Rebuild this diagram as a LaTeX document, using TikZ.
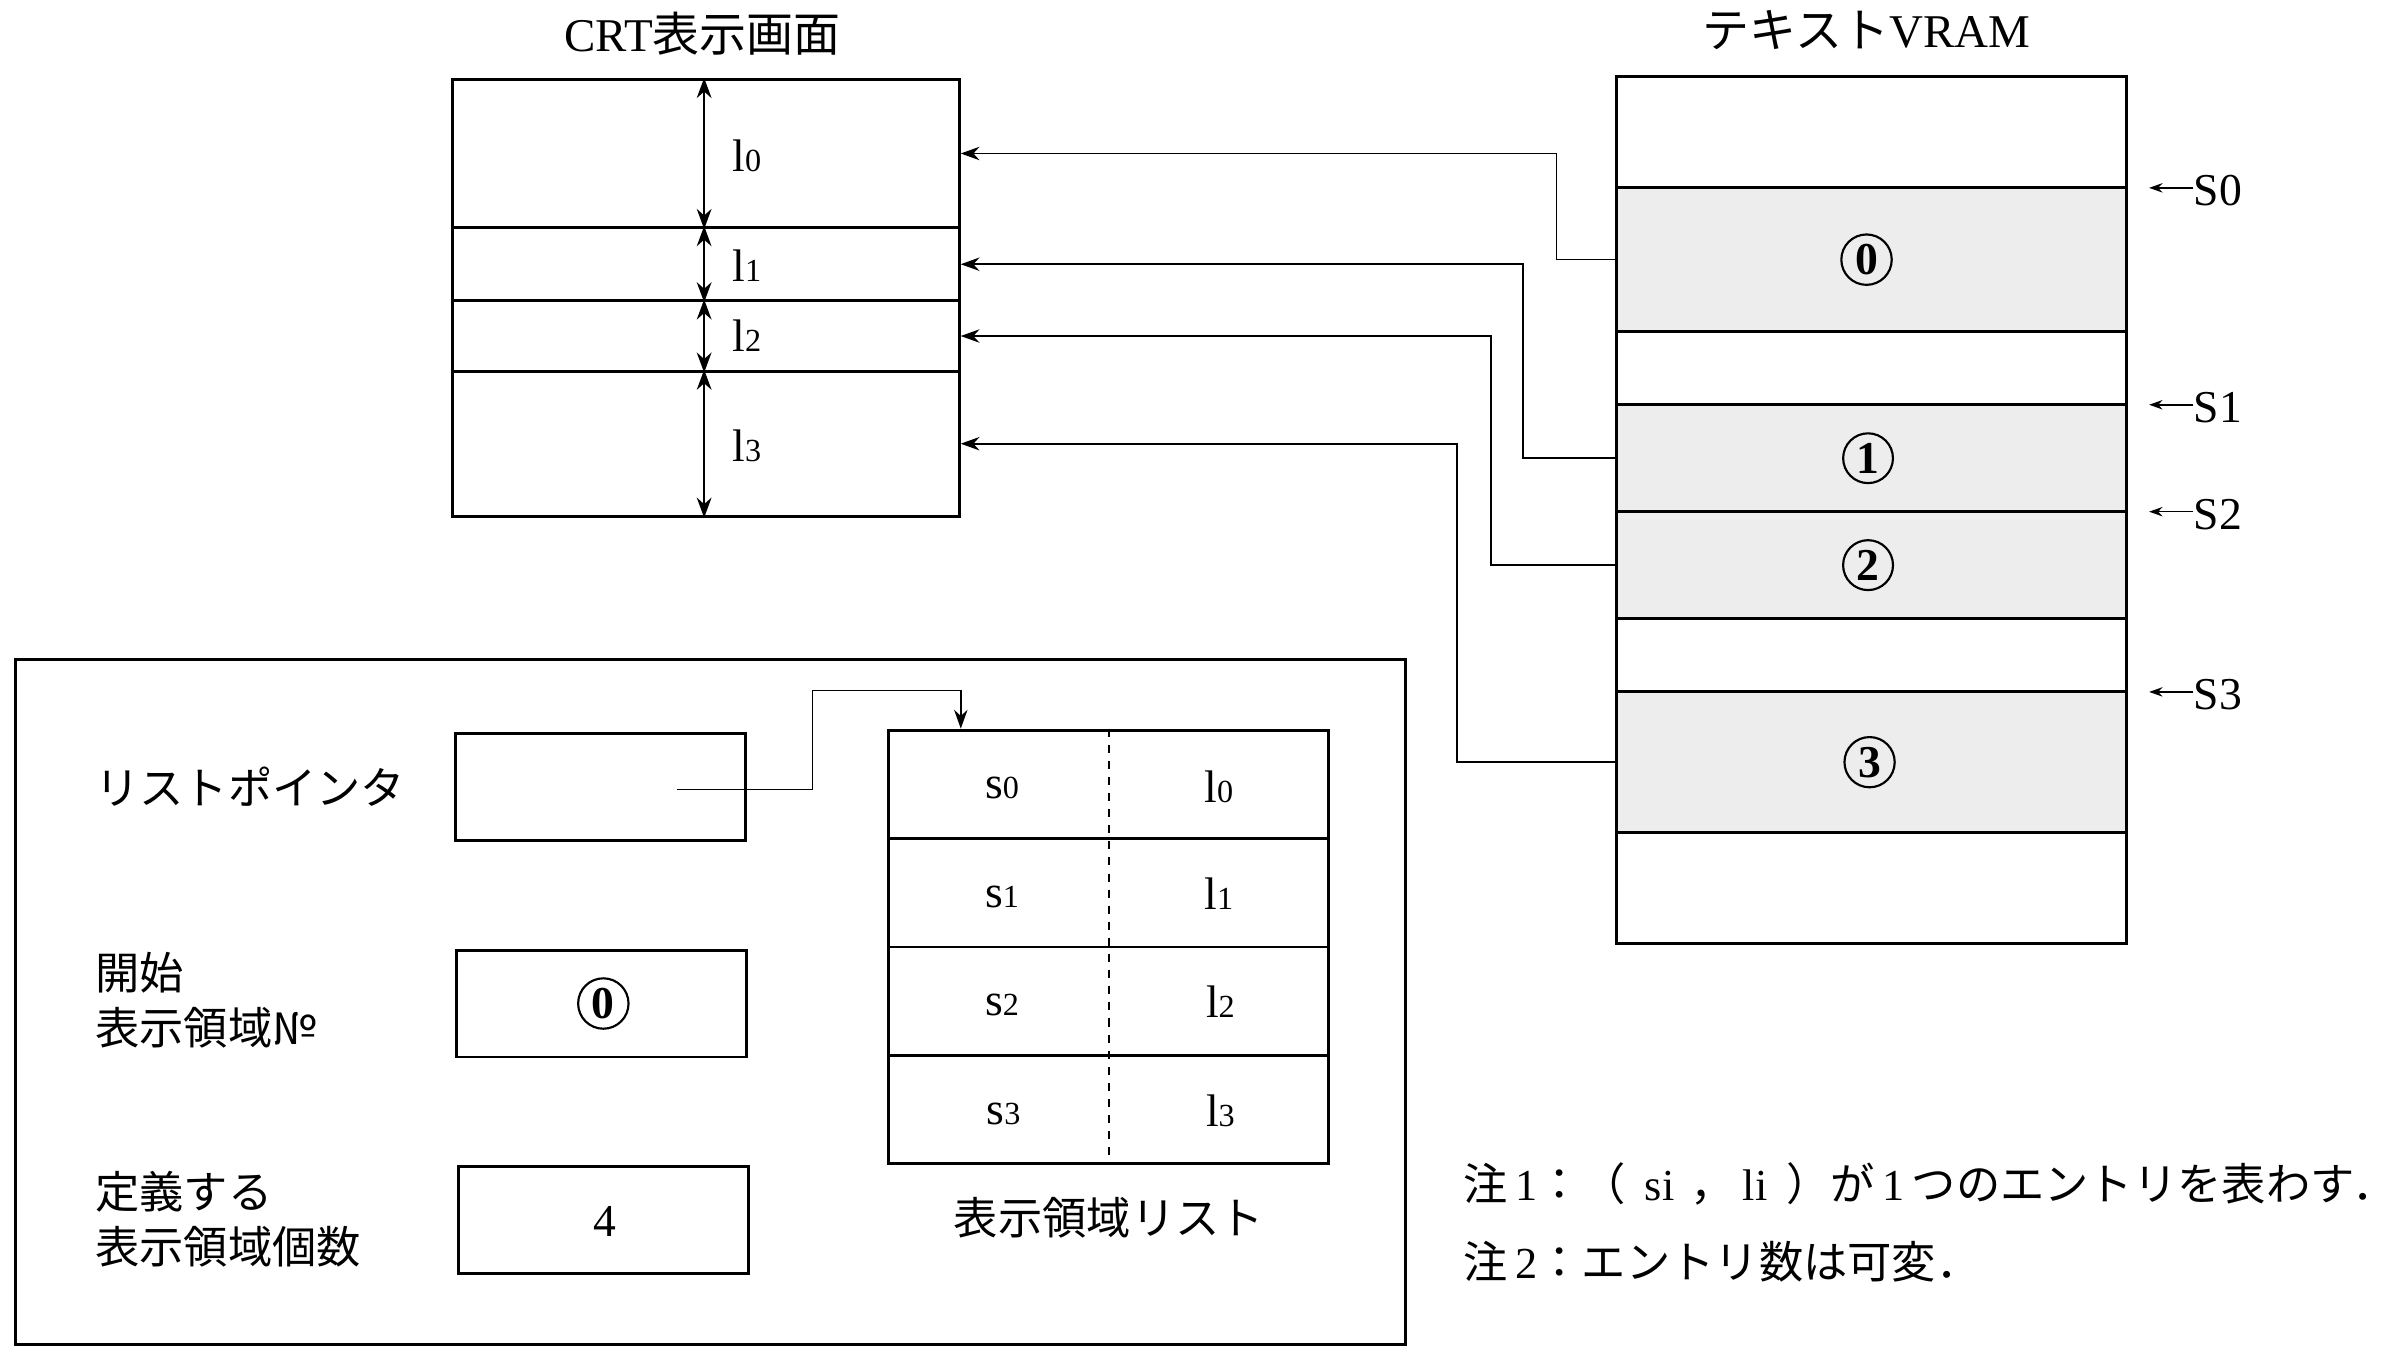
\documentclass[tikz,border=0pt]{standalone}
\usepackage{fontspec}
\setmainfont{Liberation Serif}
\newfontfamily\jp{Noto Sans CJK JP}
\usetikzlibrary{arrows.meta,fit,calc}
\begin{document}
\begin{tikzpicture}[x=0.02cm,y=-0.02cm,
  region/.style={draw, line width=1.1pt, inner sep=0pt},
  shaded/.style={region, fill=gray!14},
  conn/.style={line width=0.6pt, -{Stealth[length=7pt,width=5pt]}},
  dimarrow/.style={line width=0.7pt, {Stealth[length=7.5pt,width=5.5pt]}-{Stealth[length=7.5pt,width=5.5pt]}},
  marker/.style={line width=0.6pt, -{Stealth[length=5pt,width=3.5pt]}},
  title/.style={font=\fontsize{17.5}{20}\selectfont},
  jlab/.style={font=\jp\fontsize{16.5}{20.5}\selectfont, anchor=west, align=left, inner sep=0pt},
  lat/.style={font=\fontsize{17}{20}\selectfont, inner sep=0pt},
  cnum/.style={circle, draw, line width=0.8pt, inner sep=1.6pt, font=\fontsize{17}{17}\selectfont\bfseries}]
\newcommand{\lsub}[2]{#1{\fontsize{12}{12}\selectfont #2}}
\useasboundingbox (0,0) rectangle (1568,884);

% ---------- CRT screen ----------
\node[title] (crttitle) at (460,22) {CRT{\jp 表示画面}};
\node[region, fit={(296,52)(628,149)}] (c0) {};
\node[region, fit={(296,149)(628,197)}] (c1) {};
\node[region, fit={(296,197)(628,243)}] (c2) {};
\node[region, fit={(296,243)(628,338)}] (c3) {};
\draw[dimarrow] ($(c0.north)+(-1,0)$) -- ($(c0.south)+(-1,0)$);
\draw[dimarrow] ($(c1.north)+(-1,0)$) -- ($(c1.south)+(-1,0)$);
\draw[dimarrow] ($(c2.north)+(-1,0)$) -- ($(c2.south)+(-1,0)$);
\draw[dimarrow] ($(c3.north)+(-1,0)$) -- ($(c3.south)+(-1,0)$);
\node[lat] (lab0) at (489,102) {\lsub{l}{0}};
\node[lat] (lab1) at (489,174) {\lsub{l}{1}};
\node[lat] (lab2) at (489,220) {\lsub{l}{2}};
\node[lat] (lab3) at (489,292) {\lsub{l}{3}};

% ---------- Text VRAM ----------
\node[title] (vtitle) at (1222,20) {{\jp テキスト}VRAM};
\node[region, fit={(1058,50)(1392,123)}] (vtop) {};
\node[shaded, fit={(1058,123)(1392,217)}] (v0) {};
\node[region, fit={(1058,217)(1392,265)}] (vg1) {};
\node[shaded, fit={(1058,265)(1392,335)}] (v1) {};
\node[shaded, fit={(1058,335)(1392,405)}] (v2) {};
\node[region, fit={(1058,405)(1392,453)}] (vg2) {};
\node[shaded, fit={(1058,453)(1392,545)}] (v3) {};
\node[region, fit={(1058,545)(1392,618)}] (vbot) {};
\node[cnum] (n0) at (1222,170) {0};
\node[cnum] (n1) at (1223,300) {1};
\node[cnum] (n2) at (1223,370) {2};
\node[cnum] (n3) at (1224,499) {3};

% markers
\node[lat, anchor=west] (m0) at (1436,125) {S0};
\node[lat, anchor=west] (m1) at (1436,267) {S1};
\node[lat, anchor=west] (m2) at (1436,337) {S2};
\node[lat, anchor=west] (m3) at (1436,455) {S3};
\coordinate (t0) at (1407,123);
\coordinate (t1) at (1407,265);
\coordinate (t2) at (1407,335);
\coordinate (t3) at (1407,453);
\draw[marker] (m0.west |- t0) -- (t0);
\draw[marker] (m1.west |- t1) -- (t1);
\draw[marker] (m2.west |- t2) -- (t2);
\draw[marker] (m3.west |- t3) -- (t3);

% connectors VRAM -> CRT
\draw[conn] (v0.west) -- ++(-38,0) |- (c0.east);
\draw[conn] (v1.west) -- ++(-60,0) |- (c1.east);
\draw[conn] (v2.west) -- ++(-81,0) |- (c2.east);
\draw[conn] (v3.west) -- ++(-103,0) |- (c3.east);

% ---------- lower panel ----------
\node[region, fit={(10,432)(920,880)}] (panel) {};

\node[jlab] (lp) at (62,515) {リストポインタ};
\node[jlab] (st) at (62,655) {開始\\表示領域№};
\node[jlab] (ct) at (62,798) {定義する\\表示領域個数};

\node[region, fit={(298,480)(488,550)}] (pb) {};
\node[region, fit={(299,622)(489,692)}] (sb) {};
\node[region, fit={(300,764)(490,834)}] (cb) {};
\node[cnum] (sn) at (395,657) {0};
\node[lat] (four) at (396,800) {4};

\node[region, fit={(582,478)(870,549)}] (r0) {};
\node[region, fit={(582,549)(870,620)}] (r1) {};
\node[region, fit={(582,620)(870,691)}] (r2) {};
\node[region, fit={(582,691)(870,762)}] (r3) {};
\draw[line width=0.8pt, dash pattern=on 3pt off 3pt] ($(r0.north west)!0.5!(r0.north east)$) -- ($(r3.south west)!0.5!(r3.south east)$);
\node[lat] (s0) at (656,516) {\lsub{s}{0}};
\node[lat] (s1) at (656,587) {\lsub{s}{1}};
\node[lat] (s2) at (656,658) {\lsub{s}{2}};
\node[lat] (s3) at (657,729) {\lsub{s}{3}};
\node[lat] (e0) at (798,515) {\lsub{l}{0}};
\node[lat] (e1) at (798,585) {\lsub{l}{1}};
\node[lat] (e2) at (799,656) {\lsub{l}{2}};
\node[lat] (e3) at (799,727) {\lsub{l}{3}};
\node[jlab, anchor=center] (lcap) at (726,797) {表示領域リスト};

\coordinate (pstart) at (443,517);
\draw[conn] (pstart) -- (532,517) -- (532,452) -| ($(r0.north west)+(48,0)$);

% ---------- notes ----------
\node[font=\fontsize{16.5}{20}\selectfont, anchor=west, inner sep=0pt] (note1) at (958,775)
  {{\jp 注}\,1{\jp ：（}\hspace{7pt}si\hspace{6pt}{\jp ，}\hspace{3pt}li\hspace{7pt}{\jp ）が}\,1\,{\jp つのエントリを表わす．}};
\node[font=\fontsize{16.5}{20}\selectfont, anchor=west, inner sep=0pt] (note2) at (958,826)
  {{\jp 注}\,2{\jp ：エントリ数は可変．}};
\end{tikzpicture}
\end{document}
